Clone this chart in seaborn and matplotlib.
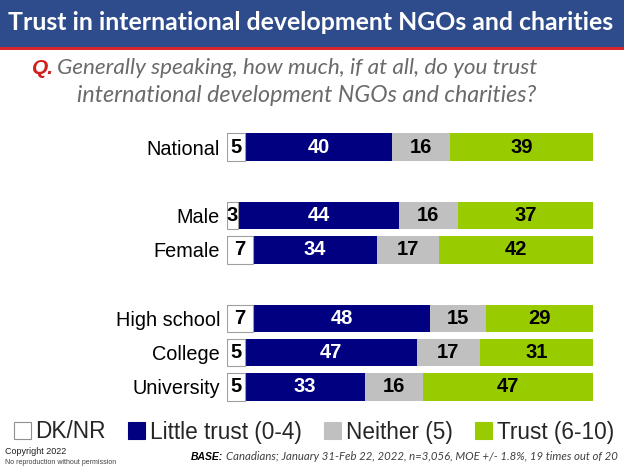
import numpy as np
import pandas as pd
import matplotlib
matplotlib.use("Agg")
import matplotlib.pyplot as plt
from matplotlib.patches import Patch, Rectangle
import seaborn as sns

categories = ["National", "Male", "Female", "High school", "College", "University"]
positions = [0, 2, 3, 5, 6, 7]
dk_nr = [5, 3, 7, 7, 5, 5]
little_trust = [40, 44, 34, 48, 47, 33]
neither = [16, 16, 17, 15, 17, 16]
trust = [39, 37, 42, 29, 31, 47]
series_names = ["DK/NR", "Little trust (0-4)", "Neither (5)", "Trust (6-10)"]
colors = ["#FFFFFF", "#000080", "#C0C0C0", "#99CC00"]
label_colors = ["black", "white", "black", "black"]

sns.set_theme(style="white")
plt.rcParams["font.family"] = ["Liberation Sans", "DejaVu Sans"]

W, H = 624, 468
fig = plt.figure(figsize=(W / 100, H / 100), dpi=100)
fig.patch.set_facecolor("white")

# title bar
fig.patches.append(Rectangle((0, 1 - 47 / H), 1, 47 / H, transform=fig.transFigure,
                             facecolor="#2E4C8C", edgecolor="none", zorder=0))
fig.patches.append(Rectangle((0, 1 - 50 / H), 1, 3 / H, transform=fig.transFigure,
                             facecolor="#D8262A", edgecolor="none", zorder=0))

renderer = fig.canvas.get_renderer()


def fit_text(x0, x1, y, s, ha="left", **kw):
    t = fig.text(x0 / W if ha == "left" else x1 / W, 1 - y / H, s, va="center", ha=ha, **kw)
    w = t.get_window_extent(renderer).width
    t.set_fontsize(t.get_fontsize() * (x1 - x0) / w)
    return t


fit_text(8, 616, 23, "Trust in international development NGOs and charities",
         color="white", fontweight="bold", family=["Lato", "DejaVu Sans"], fontsize=18)
fig.text(32 / W, 1 - 68 / H, "Q.", color="#D0201E", fontweight="bold", va="center",
         ha="left", family=["Liberation Sans"], fontsize=15, style="italic")
fit_text(57, 538, 68, "Generally speaking, how much, if at all, do you trust",
         color="#6A6A6A", style="italic", family=["Lato", "DejaVu Sans"], fontsize=15)
fit_text(77, 537, 95, "international development NGOs and charities?",
         color="#6A6A6A", style="italic", family=["Lato", "DejaVu Sans"], fontsize=15)

# chart
ax = fig.add_axes([227 / W, 1 - 404 / H, 366 / W, 274 / H])
vals = np.array([dk_nr, little_trust, neither, trust], dtype=float)
shares = vals / vals.sum(axis=0) * 100
cum = np.cumsum(shares, axis=0)

for i in reversed(range(4)):
    sns.barplot(x=cum[i], y=positions, orient="h", native_scale=True, color=colors[i],
                saturation=1, width=0.8, errorbar=None, ax=ax,
                edgecolor="#A0A0A0" if i == 0 else colors[i],
                linewidth=0.8 if i == 0 else 0)

for i in range(4):
    for j, p in enumerate(positions):
        ax.text(cum[i][j] - shares[i][j] / 2, p, str(int(vals[i][j])), ha="center",
                va="center", color=label_colors[i], fontweight="bold", fontsize=14.5)

ax.set_xlim(0, 100)
ax.set_ylim(7.5, -0.5)
ax.set_yticks(positions, categories)
ax.set_xticks([])
ax.tick_params(axis="y", length=0, pad=5, labelsize=14.3)
for lab in ax.get_yticklabels():
    lab.set_color("black")
ax.set_xlabel("")
ax.set_ylabel("")
sns.despine(ax=ax, left=True, bottom=True)

handles = [Patch(facecolor=c, edgecolor="#909090" if k == 0 else c, linewidth=0.8)
           for k, c in enumerate(colors)]
fig.legend(handles, series_names, ncol=4, loc="center", bbox_to_anchor=(314 / W, 1 - 432 / H),
           frameon=False, fontsize=16.3, handlelength=0.75, handleheight=0.75,
           handletextpad=0.2, columnspacing=1.0, borderaxespad=0)

fig.text(5 / W, 1 - 451 / H, "Copyright 2022", fontsize=6.5, color="#202020", va="center")
fig.text(5 / W, 1 - 462 / H, "No reproduction without permission", fontsize=5, color="#404040",
         va="center")
fit_text(226, 621, 457, "Canadians; January 31-Feb 22, 2022, n=3,056, MOE +/- 1.8%, 19 times out of 20",
         color="#404040", style="italic", family=["Lato", "DejaVu Sans"], fontsize=8)
fig.text(223 / W, 1 - 457 / H, "BASE:", ha="right", va="center", fontsize=7.5,
         fontweight="bold", style="italic", color="black")

fig.savefig("out.png", dpi=100)
